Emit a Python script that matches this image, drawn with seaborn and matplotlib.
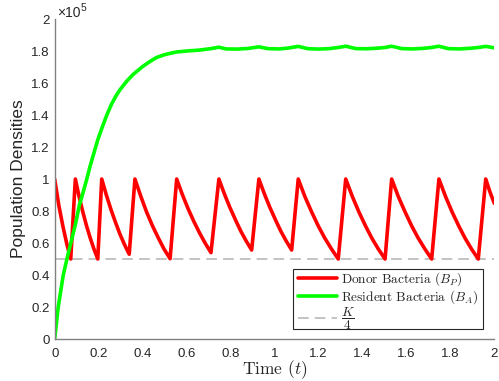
import matplotlib
matplotlib.use("Agg")
import matplotlib.pyplot as plt
import seaborn as sns
from matplotlib.patches import Rectangle
from matplotlib.ticker import FixedLocator, FuncFormatter

# Donor bacteria B_P (units of 1e5): decays, then is re-dosed back to 1e5
donor_t = [
    0.000, 0.018, 0.037, 0.055, 0.073,
    0.094, 0.111, 0.128, 0.145, 0.162, 0.179, 0.196,
    0.214, 0.235, 0.256, 0.277, 0.297, 0.318, 0.339,
    0.365, 0.392, 0.418, 0.445, 0.472, 0.498, 0.525,
    0.555, 0.581, 0.607, 0.633, 0.659, 0.685, 0.711,
    0.747, 0.772, 0.797, 0.822, 0.846, 0.871, 0.896,
    0.929, 0.954, 0.979, 1.004, 1.028, 1.053, 1.078,
    1.108, 1.138, 1.169, 1.199, 1.229, 1.260, 1.290,
    1.324, 1.354, 1.384, 1.414, 1.443, 1.473, 1.503,
    1.533, 1.563, 1.594, 1.624, 1.654, 1.685, 1.715,
    1.748, 1.778, 1.808, 1.838, 1.867, 1.897, 1.927,
    1.961, 1.980, 2.000,
]
donor_b = [
    1.000, 0.841, 0.707, 0.595, 0.500,
    1.000, 0.891, 0.794, 0.707, 0.630, 0.561, 0.500,
    1.000, 0.900, 0.809, 0.728, 0.655, 0.589, 0.530,
    1.000, 0.891, 0.794, 0.707, 0.630, 0.561, 0.502,
    1.000, 0.902, 0.814, 0.735, 0.663, 0.598, 0.540,
    1.000, 0.907, 0.822, 0.746, 0.676, 0.613, 0.556,
    1.000, 0.907, 0.822, 0.746, 0.676, 0.613, 0.556,
    1.000, 0.891, 0.794, 0.707, 0.630, 0.561, 0.500,
    1.000, 0.891, 0.794, 0.707, 0.630, 0.561, 0.500,
    1.000, 0.891, 0.794, 0.707, 0.630, 0.561, 0.500,
    1.000, 0.891, 0.794, 0.707, 0.630, 0.561, 0.500,
    1.000, 0.920, 0.848,
]

# Resident bacteria B_A (units of 1e5)
resident_t = [
    0.000, 0.016, 0.039, 0.057, 0.073, 0.094, 0.112, 0.130, 0.146, 0.161,
    0.180, 0.196, 0.214, 0.237, 0.260, 0.280, 0.297, 0.328, 0.358, 0.400,
    0.434, 0.464, 0.500, 0.530, 0.555, 0.600, 0.660, 0.711, 0.747, 0.780,
    0.830, 0.880, 0.929, 0.970, 1.020, 1.060, 1.108, 1.150, 1.200, 1.250,
    1.290, 1.324, 1.370, 1.420, 1.470, 1.503, 1.533, 1.580, 1.630, 1.680,
    1.715, 1.748, 1.790, 1.840, 1.890, 1.927, 1.961, 2.000,
]
resident_b = [
    0.000, 0.200, 0.400, 0.508, 0.598, 0.715, 0.835, 0.920, 1.000, 1.080,
    1.170, 1.245, 1.315, 1.400, 1.472, 1.522, 1.558, 1.612, 1.655, 1.703,
    1.735, 1.760, 1.777, 1.787, 1.794, 1.800, 1.806, 1.815, 1.824, 1.813,
    1.812, 1.816, 1.826, 1.815, 1.813, 1.818, 1.829, 1.815, 1.812, 1.815,
    1.822, 1.830, 1.815, 1.814, 1.818, 1.822, 1.830, 1.815, 1.813, 1.817,
    1.822, 1.830, 1.815, 1.813, 1.817, 1.822, 1.829, 1.820,
]

# Carrying-capacity quarter K/4 (units of 1e5)
k_quarter = 0.5

tick_values = [0.0, 0.2, 0.4, 0.6, 0.8, 1.0, 1.2, 1.4, 1.6, 1.8, 2.0]

sns.set_style("white")
plt.rcParams["font.family"] = ["Liberation Sans", "DejaVu Sans"]
plt.rcParams["mathtext.fontset"] = "cm"

fig = plt.figure(figsize=(4.99, 3.81), dpi=100)
ax = fig.add_axes([0.1096, 0.1102, 0.881, 0.8399])

sns.lineplot(x=donor_t, y=donor_b, ax=ax, color="#ff0000", linewidth=2.6,
             estimator=None, sort=False, label="Donor Bacteria ($B_P$)")
sns.lineplot(x=resident_t, y=resident_b, ax=ax, color="#00ff00", linewidth=2.6,
             estimator=None, sort=False, label="Resident Bacteria ($B_A$)")
ax.axhline(k_quarter, color="#b3b3b3", linewidth=1.1, dashes=(7, 4),
           label=r"$\dfrac{K}{4}$", zorder=1)

ax.set_xlim(0, 2)
ax.set_ylim(0, 2)
fmt = FuncFormatter(lambda v, p: f"{round(v, 1):g}")
for axis in (ax.xaxis, ax.yaxis):
    axis.set_major_locator(FixedLocator(tick_values))
    axis.set_major_formatter(fmt)

for side in ("top", "right"):
    ax.spines[side].set_visible(False)
for side in ("left", "bottom"):
    ax.spines[side].set_color("#808080")
    ax.spines[side].set_linewidth(1.0)

ax.tick_params(axis="both", direction="in", length=3, width=0.8,
               color="#808080", labelcolor="#262626", labelsize=9.5)
ax.tick_params(axis="x", pad=6.5)
ax.tick_params(axis="y", pad=3.6)

ax.set_ylabel("Population Densities", fontsize=12.5, color="#262626", labelpad=4)
ax.set_xlabel("Time ($t$)", fontsize=12.5, family="cmr10", color="#262626",
              labelpad=-1)

fig.text(57 / 499, 1 - 17 / 381, "×10", fontsize=10, color="#262626",
         va="baseline", ha="left")
fig.text(80.5 / 499, 1 - 11 / 381, "5", fontsize=7.5, color="#262626",
         va="baseline", ha="left")

# Legend frame drawn as a box, entries placed inside it
ax.add_patch(Rectangle((0.5428, 0.03125), 0.4322, 0.1875, transform=ax.transAxes,
                       facecolor="white", edgecolor="#262626", linewidth=0.8,
                       zorder=4.5, clip_on=False))
leg = ax.legend(loc="upper left", bbox_to_anchor=(0.5535, 0.2150),
                borderaxespad=0, borderpad=0, frameon=False,
                handlelength=2.9, handletextpad=0.3, labelspacing=0.0,
                prop={"family": "cmr10", "size": 9.6})
leg.set_zorder(5)

fig.savefig("out.png", dpi=100)
